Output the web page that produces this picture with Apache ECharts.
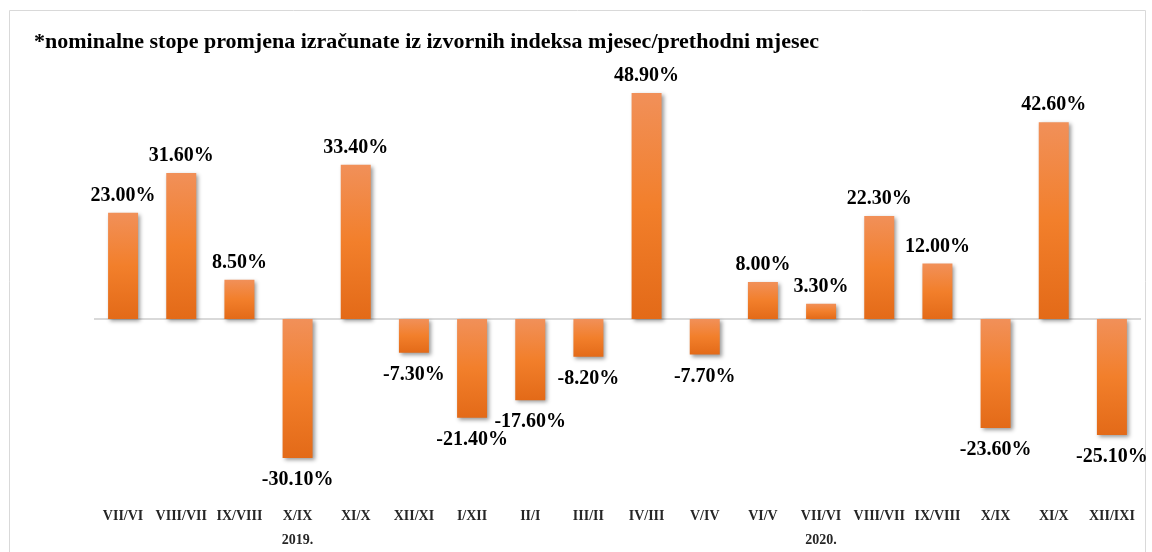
<!DOCTYPE html>
<html lang="hr">

<head>
    <meta charset="UTF-8">
    <title>Nominalne stope promjena</title>
    <script src="https://cdn.jsdelivr.net/npm/echarts@6/dist/echarts.min.js"></script>
    <style>
        body { margin: 0; background: #fff; }
    </style>
</head>

<body>
    <div id="main" style="width: 1152px; height: 552px;"></div>

    <script type="text/javascript">
        // month-over-month pairs, July 2019 .. December 2020
        const categories = ['VII/VI', 'VIII/VII', 'IX/VIII', 'X/IX', 'XI/X', 'XII/XI', 'I/XII', 'II/I', 'III/II',
            'IV/III', 'V/IV', 'VI/V', 'VII/VI', 'VIII/VII', 'IX/VIII', 'X/IX', 'XI/X', 'XII/IXI'];
        const values = [23.0, 31.6, 8.5, -30.1, 33.4, -7.3, -21.4, -17.6, -8.2,
            48.9, -7.7, 8.0, 3.3, 22.3, 12.0, -23.6, 42.6, -25.1];
        // year written under one label of each group
        const years = ['', '', '', '2019.', '', '', '', '', '', '', '', '', '2020.', '', '', '', '', ''];

        const serif = '"Liberation Serif", "Times New Roman", serif';

        let myChart = echarts.init(document.getElementById('main'));

        let options = {
            animation: false,
            title: {
                text: '*nominalne stope promjena izračunate iz izvornih indeksa mjesec/prethodni mjesec',
                left: 29,
                top: 26,
                textStyle: { fontFamily: serif, fontWeight: 'bold', fontSize: 22, color: '#000' }
            },
            graphic: [{
                type: 'rect',
                shape: { x: 9.5, y: 10.5, width: 1136, height: 600 },
                style: { fill: 'none', stroke: '#d9d9d9', lineWidth: 1 },
                silent: true
            }],
            grid: { left: 94, right: 11, top: 78.8, height: 388 },
            xAxis: {
                type: 'category',
                data: categories,
                axisLine: { show: false },
                axisTick: { show: false },
                axisLabel: {
                    interval: 0,
                    margin: 42,
                    formatter: (v, i) => years[i] ? '{c|' + v + '}\n{y|' + years[i] + '}' : '{c|' + v + '}',
                    rich: {
                        c: { fontFamily: serif, fontWeight: 'bold', fontSize: 14, color: '#262626', lineHeight: 16 },
                        y: { fontFamily: serif, fontWeight: 'bold', fontSize: 14, color: '#262626', lineHeight: 32 }
                    }
                }
            },
            yAxis: {
                type: 'value',
                min: -32,
                max: 52,
                interval: 4,
                show: false,
                splitLine: { show: false }
            },
            series: [{
                type: 'bar',
                barWidth: 30,
                data: values.map(v => ({
                    value: v,
                    label: { position: v < 0 ? 'bottom' : 'top', distance: v < 0 ? 12 : 7 }
                })),
                itemStyle: {
                    color: new echarts.graphic.LinearGradient(0, 0, 0, 1, [
                        { offset: 0, color: '#f19059' },
                        { offset: 0.5, color: '#f27f2b' },
                        { offset: 1, color: '#e36a18' }
                    ]),
                    shadowColor: 'rgba(0,0,0,0.4)',
                    shadowBlur: 4,
                    shadowOffsetX: 2,
                    shadowOffsetY: 2
                },
                label: {
                    show: true,
                    formatter: p => p.value.toFixed(2) + '%',
                    fontFamily: serif,
                    fontWeight: 'bold',
                    fontSize: 20,
                    color: '#000'
                },
                markLine: {
                    silent: true,
                    symbol: 'none',
                    label: { show: false },
                    lineStyle: { color: '#d9d9d9', width: 2, type: 'solid' },
                    data: [{ yAxis: 0 }],
                    z: 1
                }
            }]
        };

        myChart.setOption(options);

        window.addEventListener('resize', () => {
            myChart.resize();
        });
    </script>
</body>

</html>
